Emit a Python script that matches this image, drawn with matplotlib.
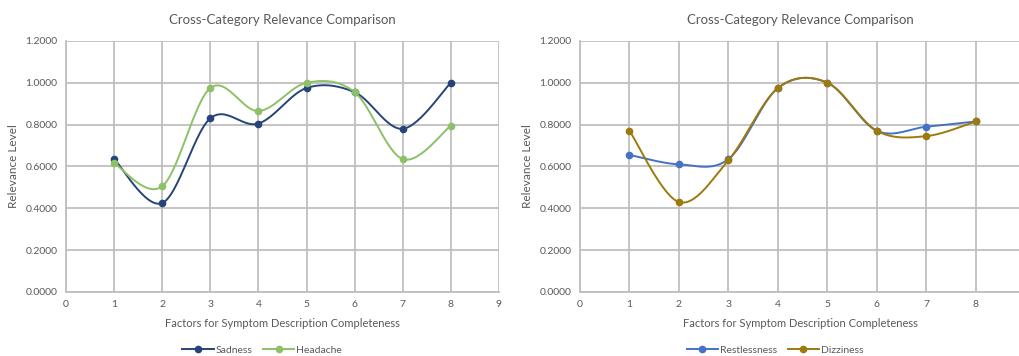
import numpy as np
import matplotlib.pyplot as plt
from matplotlib.lines import Line2D

plt.rcParams['font.family'] = ['Lato', 'DejaVu Sans']

factors = [1, 2, 3, 4, 5, 6, 7, 8]

sadness = [0.635, 0.425, 0.830, 0.805, 0.975, 0.955, 0.780, 1.000]
headache = [0.615, 0.505, 0.975, 0.865, 1.000, 0.955, 0.635, 0.795]
restlessness = [0.655, 0.610, 0.635, 0.975, 1.000, 0.770, 0.790, 0.815]
dizziness = [0.770, 0.430, 0.630, 0.975, 1.000, 0.770, 0.745, 0.815]

title = "Cross-Category Relevance Comparison"
xlabel = "Factors for Symptom Description Completeness"
ylabel = "Relevance Level"

text_col = "#595959"
grid_col = "#BFBFBF"


def smooth(x, y, n=30):
    # Excel-style smoothed line (Catmull-Rom through the points)
    x = np.asarray(x, float)
    y = np.asarray(y, float)
    px = np.concatenate([[x[0]], x, [x[-1]]])
    py = np.concatenate([[y[0]], y, [y[-1]]])
    xs, ys = [], []
    t = np.linspace(0, 1, n)
    for i in range(1, len(px) - 2):
        p0, p1, p2, p3 = (np.array([px[j], py[j]]) for j in (i - 1, i, i + 1, i + 2))
        c1 = p1 + (p2 - p0) / 6
        c2 = p2 - (p3 - p1) / 6
        b = ((1 - t) ** 3)[:, None] * p1 + (3 * (1 - t) ** 2 * t)[:, None] * c1 \
            + (3 * (1 - t) * t ** 2)[:, None] * c2 + (t ** 3)[:, None] * p2
        xs.extend(b[:, 0])
        ys.extend(b[:, 1])
    return xs, ys


def draw(ax, series, xmax, xticks):
    for name, vals, col in series:
        sx, sy = smooth(factors, vals)
        ax.plot(sx, sy, color=col, lw=1.4, zorder=3)
        ax.plot(factors, vals, 'o', color=col, ms=4.5, zorder=4)
    ax.set_xlim(0, xmax)
    ax.set_ylim(0, 1.2)
    ax.set_xticks(xticks)
    ax.set_yticks(np.arange(0, 1.21, 0.2))
    ax.set_yticklabels([f"{v:.4f}" for v in np.arange(0, 1.21, 0.2)])
    ax.grid(True, color=grid_col, lw=1.3)
    ax.set_axisbelow(True)
    for s in ax.spines.values():
        s.set_visible(False)
    ax.spines['left'].set_visible(True)
    ax.spines['bottom'].set_visible(True)
    ax.spines['left'].set_color(grid_col)
    ax.spines['bottom'].set_color(grid_col)
    ax.spines['left'].set_linewidth(1.3)
    ax.spines['bottom'].set_linewidth(1.3)
    ax.tick_params(length=0, labelsize=7.5, colors=text_col, pad=6)
    ax.set_title(title, fontsize=9.5, color=text_col, pad=12)
    ax.set_xlabel(xlabel, fontsize=8, color=text_col, labelpad=6)
    ax.set_ylabel(ylabel, fontsize=8.5, color=text_col, labelpad=5)


fig = plt.figure(figsize=(10.2, 3.56), dpi=100)

ax1 = fig.add_axes([0.0647, 0.180, 0.4245, 0.705])
s1 = [("Sadness", sadness, "#264478"), ("Headache", headache, "#8CC168")]
draw(ax1, s1, 9, range(0, 10))

ax2 = fig.add_axes([0.5686, 0.180, 0.4314, 0.705])
s2 = [("Restlessness", restlessness, "#4472C4"), ("Dizziness", dizziness, "#9E7A0C")]
draw(ax2, s2, 8.89, range(0, 9))

for ax, ss, cx in [(ax1, s1, 0.257), (ax2, s2, 0.760)]:
    handles = [Line2D([], [], color=c, lw=1.4, marker='o', ms=4.5) for _, _, c in ss]
    fig.legend(handles, [n for n, _, _ in ss], loc='center', bbox_to_anchor=(cx, 0.016),
               ncol=2, frameon=False, fontsize=7.5, labelcolor=text_col,
               handlelength=3, handletextpad=0.2, columnspacing=1.0)

fig.savefig("out.png", dpi=100)
